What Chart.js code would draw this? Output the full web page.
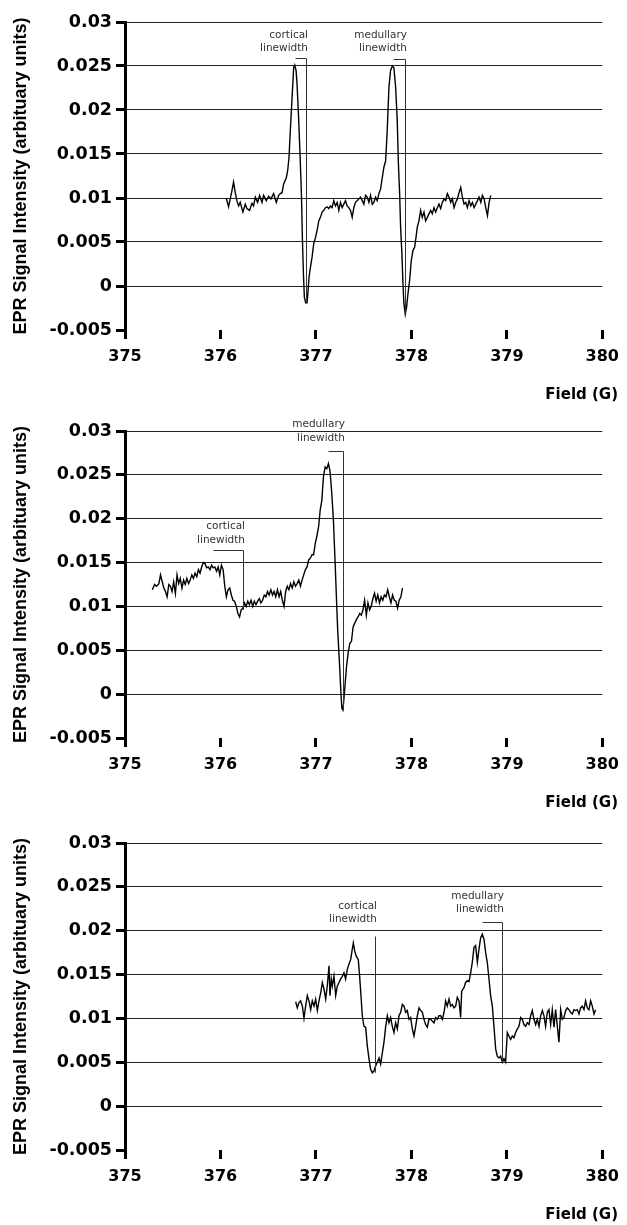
<!DOCTYPE html>
<html><head><meta charset="utf-8">
<script src="https://cdn.jsdelivr.net/npm/chart.js@4.4.1/dist/chart.umd.min.js"></script>
<style>
html,body{margin:0;padding:0;background:#fff;}
body{width:627px;height:1225px;position:relative;overflow:hidden;}
canvas{position:absolute;left:0;}
</style></head><body>
<canvas id="c1" width="627" height="410" style="top:0px"></canvas>
<canvas id="c2" width="627" height="410" style="top:410px"></canvas>
<canvas id="c3" width="627" height="405" style="top:820px"></canvas>
<script>
// ---- tick labels ----
const xTickValues = [375, 376, 377, 378, 379, 380];
const xTickLabels = ['375', '376', '377', '378', '379', '380'];
const yTickValues = [-0.005, 0, 0.005, 0.01, 0.015, 0.02, 0.025, 0.03];
const yTickLabels = ['-0.005', '0', '0.005', '0.01', '0.015', '0.02', '0.025', '0.03'];
const yTitle = 'EPR Signal Intensity (arbituary units)';
const xTitle = 'Field (G)';

// ---- panel 1 (top) ----
const field1 = [
376.060,376.085,376.120,376.137,376.155,376.172,376.190,376.207,376.235,376.260,
376.277,376.305,376.330,376.347,376.365,376.389,376.410,376.435,376.452,376.480,
376.505,376.529,376.557,376.585,376.610,376.627,376.645,376.662,376.690,376.704,
376.718,376.732,376.750,376.767,376.778,376.792,376.802,376.820,376.837,376.848,
376.858,376.869,376.879,376.893,376.907,376.918,376.928,376.942,376.960,376.977,
376.995,377.012,377.030,377.047,377.065,377.082,377.100,377.117,377.135,377.152,
377.170,377.187,377.205,377.222,377.240,377.257,377.275,377.292,377.310,377.327,
377.345,377.362,377.380,377.397,377.415,377.432,377.450,377.467,377.485,377.502,
377.520,377.537,377.555,377.572,377.590,377.607,377.625,377.642,377.660,377.677,
377.695,377.712,377.730,377.747,377.765,377.782,377.800,377.817,377.835,377.852,
377.863,377.877,377.887,377.901,377.912,377.922,377.936,377.950,377.964,377.981,
377.999,378.016,378.034,378.048,378.062,378.079,378.097,378.114,378.132,378.149,
378.167,378.184,378.202,378.219,378.237,378.254,378.272,378.289,378.307,378.324,
378.342,378.359,378.377,378.394,378.412,378.429,378.447,378.464,378.482,378.499,
378.517,378.534,378.552,378.569,378.587,378.604,378.622,378.639,378.657,378.674,
378.692,378.709,378.727,378.744,378.762,378.779,378.797,378.814,378.832];
const signal1 = [
0.0100,0.0090,0.0108,0.0118,0.0106,0.0097,0.0091,0.0095,0.0084,0.0093,
0.0088,0.0086,0.0094,0.0091,0.0101,0.0095,0.0103,0.0095,0.0103,0.0097,
0.0102,0.0099,0.0105,0.0095,0.0103,0.0105,0.0106,0.0116,0.0123,0.0131,
0.0146,0.0177,0.0214,0.0248,0.0251,0.0245,0.0230,0.0188,0.0139,0.0105,
0.0055,0.0014,-0.0013,-0.0019,-0.0019,-0.0005,0.0010,0.0021,0.0033,0.0048,
0.0055,0.0063,0.0074,0.0078,0.0084,0.0086,0.0089,0.0090,0.0088,0.0091,
0.0089,0.0097,0.0091,0.0095,0.0086,0.0095,0.0089,0.0093,0.0097,0.0091,
0.0089,0.0086,0.0078,0.0089,0.0095,0.0097,0.0099,0.0101,0.0097,0.0093,
0.0103,0.0101,0.0095,0.0103,0.0093,0.0095,0.0101,0.0097,0.0105,0.0110,
0.0123,0.0135,0.0142,0.0177,0.0226,0.0245,0.0250,0.0248,0.0226,0.0188,
0.0142,0.0105,0.0067,0.0036,0.0002,-0.0020,-0.0032,-0.0024,-0.0009,0.0006,
0.0029,0.0040,0.0044,0.0055,0.0067,0.0074,0.0086,0.0078,0.0084,0.0074,
0.0078,0.0082,0.0086,0.0082,0.0089,0.0084,0.0089,0.0093,0.0088,0.0095,
0.0099,0.0097,0.0105,0.0101,0.0095,0.0099,0.0089,0.0095,0.0099,0.0106,
0.0112,0.0101,0.0093,0.0095,0.0089,0.0097,0.0091,0.0095,0.0089,0.0093,
0.0097,0.0101,0.0095,0.0103,0.0099,0.0089,0.0080,0.0095,0.0103];

// ---- panel 2 (middle) ----
const field2 = [
375.286,375.310,375.331,375.355,375.372,375.390,375.407,375.424,375.441,375.459,
375.476,375.493,375.510,375.528,375.545,375.562,375.579,375.597,375.614,375.631,
375.648,375.666,375.683,375.700,375.717,375.734,375.752,375.769,375.786,375.803,
375.821,375.838,375.855,375.872,375.890,375.907,375.924,375.941,375.959,375.976,
375.993,376.010,376.028,376.045,376.062,376.079,376.097,376.114,376.131,376.148,
376.166,376.183,376.200,376.217,376.234,376.252,376.269,376.286,376.303,376.321,
376.338,376.355,376.372,376.390,376.407,376.424,376.441,376.459,376.476,376.493,
376.510,376.528,376.545,376.562,376.579,376.597,376.614,376.631,376.648,376.666,
376.683,376.700,376.717,376.734,376.752,376.769,376.786,376.803,376.821,376.838,
376.855,376.872,376.890,376.907,376.924,376.941,376.959,376.976,376.993,377.010,
377.028,377.045,377.062,377.079,377.097,377.114,377.131,377.148,377.166,377.183,
377.193,377.203,377.217,377.228,377.241,377.252,377.262,377.272,377.283,377.293,
377.307,377.321,377.338,377.355,377.372,377.390,377.407,377.424,377.441,377.459,
377.476,377.493,377.510,377.528,377.545,377.562,377.579,377.597,377.614,377.631,
377.648,377.666,377.683,377.700,377.717,377.734,377.752,377.769,377.786,377.803,
377.821,377.838,377.855,377.872,377.890,377.907];
const signal2 = [
0.0119,0.0125,0.0123,0.0126,0.0136,0.0128,0.0121,0.0117,0.0111,0.0125,
0.0123,0.0117,0.0128,0.0115,0.0136,0.0126,0.0132,0.0121,0.0130,0.0125,
0.0132,0.0126,0.0130,0.0136,0.0132,0.0138,0.0134,0.0142,0.0138,0.0145,
0.0150,0.0149,0.0144,0.0145,0.0142,0.0147,0.0144,0.0145,0.0140,0.0145,
0.0136,0.0147,0.0142,0.0123,0.0111,0.0119,0.0121,0.0113,0.0107,0.0106,
0.0100,0.0092,0.0088,0.0096,0.0098,0.0104,0.0100,0.0106,0.0102,0.0107,
0.0100,0.0106,0.0102,0.0106,0.0109,0.0104,0.0107,0.0113,0.0111,0.0117,
0.0113,0.0119,0.0113,0.0117,0.0111,0.0119,0.0111,0.0117,0.0107,0.0100,
0.0117,0.0123,0.0119,0.0126,0.0121,0.0128,0.0123,0.0126,0.0130,0.0123,
0.0130,0.0136,0.0142,0.0145,0.0153,0.0155,0.0159,0.0159,0.0172,0.0180,
0.0191,0.0210,0.0221,0.0248,0.0259,0.0257,0.0263,0.0254,0.0229,0.0199,
0.0172,0.0145,0.0104,0.0073,0.0047,0.0024,0.0001,-0.0016,-0.0018,-0.0006,
0.0013,0.0032,0.0047,0.0058,0.0060,0.0077,0.0081,0.0085,0.0088,0.0092,
0.0090,0.0096,0.0107,0.0090,0.0104,0.0096,0.0100,0.0109,0.0115,0.0106,
0.0113,0.0104,0.0111,0.0107,0.0113,0.0111,0.0119,0.0111,0.0104,0.0113,
0.0107,0.0106,0.0098,0.0107,0.0111,0.0121];

// ---- panel 3 (bottom) ----
const field3 = [
376.788,376.805,376.823,376.840,376.858,376.875,376.892,376.910,376.927,376.945,
376.962,376.980,376.997,377.015,377.032,377.050,377.067,377.085,377.102,377.119,
377.137,377.147,377.161,377.172,377.189,377.207,377.224,377.242,377.259,377.277,
377.294,377.311,377.329,377.346,377.364,377.381,377.392,377.406,377.423,377.444,
377.458,377.472,377.486,377.503,377.521,377.538,377.556,377.573,377.591,377.608,
377.626,377.643,377.661,377.678,377.696,377.713,377.730,377.748,377.765,377.783,
377.800,377.818,377.835,377.853,377.870,377.888,377.905,377.923,377.940,377.957,
377.975,377.992,378.010,378.027,378.045,378.062,378.080,378.097,378.115,378.132,
378.149,378.167,378.184,378.202,378.219,378.237,378.254,378.272,378.289,378.307,
378.324,378.342,378.359,378.376,378.394,378.411,378.429,378.446,378.464,378.481,
378.499,378.516,378.527,378.551,378.568,378.586,378.603,378.621,378.638,378.656,
378.673,378.691,378.708,378.726,378.743,378.761,378.778,378.795,378.813,378.830,
378.848,378.865,378.883,378.900,378.918,378.935,378.953,378.970,378.987,379.005,
379.022,379.040,379.057,379.075,379.092,379.110,379.127,379.145,379.162,379.179,
379.197,379.214,379.232,379.249,379.267,379.284,379.302,379.319,379.337,379.354,
379.372,379.389,379.406,379.424,379.441,379.459,379.476,379.494,379.511,379.529,
379.546,379.564,379.581,379.598,379.616,379.633,379.651,379.668,379.686,379.703,
379.721,379.738,379.756,379.773,379.790,379.808,379.825,379.843,379.860,379.878,
379.895,379.913,379.930];
const signal3 = [
0.0119,0.0112,0.0118,0.0120,0.0114,0.0100,0.0114,0.0126,0.0120,0.0110,
0.0120,0.0114,0.0122,0.0109,0.0120,0.0129,0.0141,0.0133,0.0122,0.0137,
0.0160,0.0126,0.0145,0.0137,0.0148,0.0126,0.0137,0.0141,0.0145,0.0148,
0.0152,0.0145,0.0156,0.0162,0.0167,0.0179,0.0186,0.0177,0.0171,0.0167,
0.0148,0.0126,0.0103,0.0091,0.0090,0.0069,0.0054,0.0042,0.0038,0.0040,
0.0046,0.0050,0.0055,0.0048,0.0061,0.0073,0.0090,0.0103,0.0095,0.0101,
0.0091,0.0084,0.0095,0.0088,0.0103,0.0107,0.0116,0.0114,0.0107,0.0109,
0.0099,0.0101,0.0088,0.0080,0.0091,0.0103,0.0112,0.0109,0.0107,0.0099,
0.0093,0.0090,0.0099,0.0099,0.0097,0.0095,0.0101,0.0099,0.0103,0.0103,
0.0099,0.0107,0.0120,0.0114,0.0122,0.0114,0.0116,0.0112,0.0114,0.0124,
0.0120,0.0101,0.0131,0.0135,0.0141,0.0143,0.0142,0.0152,0.0164,0.0181,
0.0183,0.0164,0.0179,0.0192,0.0196,0.0190,0.0175,0.0164,0.0145,0.0126,
0.0114,0.0091,0.0065,0.0057,0.0055,0.0057,0.0050,0.0054,0.0050,0.0084,
0.0080,0.0076,0.0080,0.0078,0.0084,0.0088,0.0091,0.0101,0.0099,0.0093,
0.0091,0.0095,0.0093,0.0103,0.0109,0.0099,0.0093,0.0099,0.0091,0.0103,
0.0109,0.0103,0.0091,0.0107,0.0110,0.0093,0.0110,0.0090,0.0110,0.0091,
0.0073,0.0110,0.0099,0.0101,0.0109,0.0112,0.0110,0.0107,0.0105,0.0110,
0.0109,0.0110,0.0105,0.0112,0.0114,0.0110,0.0120,0.0112,0.0110,0.0120,
0.0114,0.0105,0.0110];

// ---- linewidth callouts (field/intensity values) ----
const annoLabels1 = [['cortical','linewidth'], ['medullary','linewidth']];
const annoPeak1   = [376.777, 377.809];
const annoTrough1 = [376.899, 377.938];
const annoTop1    = [0.0259, 0.0258];
const annoBottom1 = [-0.0017, -0.0031];
const annoText1   = [0.0270, 0.0270];

const annoLabels2 = [['medullary','linewidth'], ['cortical','linewidth']];
const annoPeak2   = [377.131, 375.924];
const annoTrough2 = [377.279, 376.234];
const annoTop2    = [0.0277, 0.0164];
const annoBottom2 = [-0.0018, 0.0096];
const annoText2   = [0.0292, 0.0176];

const annoLabels3 = [['cortical','linewidth'], ['medullary','linewidth']];
const annoPeak3   = [377.619, 378.736];
const annoTrough3 = [377.619, 378.946];
const annoTop3    = [0.0194, 0.0210];
const annoBottom3 = [0.0038, 0.0050];
const annoText3   = [0.0213, 0.0224];

function calloutPlugin(labels, peak, trough, top, bottom, text) {
  return {
    id: 'callouts',
    afterDatasetsDraw(chart) {
      const ctx = chart.ctx, xs = chart.scales.x, ys = chart.scales.y;
      ctx.save();
      ctx.strokeStyle = '#333';
      ctx.lineWidth = 1;
      ctx.fillStyle = '#333';
      ctx.font = '10.5px "DejaVu Sans"';
      ctx.textAlign = 'right';
      ctx.textBaseline = 'middle';
      labels.forEach((lab, i) => {
        const px0 = Math.round(xs.getPixelForValue(peak[i])) + 0.5;
        const px1 = Math.round(xs.getPixelForValue(trough[i])) + 0.5;
        const pyT = Math.round(ys.getPixelForValue(top[i])) + 0.5;
        const pyB = ys.getPixelForValue(bottom[i]);
        const pyL = ys.getPixelForValue(text[i]);
        ctx.beginPath();
        ctx.moveTo(px0, pyT);
        ctx.lineTo(px1, pyT);
        ctx.lineTo(px1, pyB);
        ctx.stroke();
        ctx.fillText(lab[0], px1 + 1.5, pyL - 13.3);
        ctx.fillText(lab[1], px1 + 1.5, pyL);
      });
      ctx.fillStyle = '#000';
      ctx.font = 'bold 15px "DejaVu Sans"';
      ctx.fillText(xTitle, 618, chart.chartArea.bottom + 65.5);
      ctx.restore();
    }
  };
}

function makeChart(id, xs, ys, plugin, padTop, padBottom) {
  const pts = xs.map((x, i) => ({x: x, y: ys[i]}));
  const xFont = {family: 'DejaVu Sans', weight: 'bold', size: 16};
  const yFont = {family: 'DejaVu Sans', weight: 'bold', size: 17.5};
  return new Chart(document.getElementById(id), {
    type: 'line',
    data: {datasets: [{data: pts, borderColor: '#000', borderWidth: 1.4, pointRadius: 0, tension: 0, fill: false}]},
    options: {
      responsive: false, animation: false, devicePixelRatio: 1,
      layout: {padding: {left: 0, right: 24, top: padTop, bottom: padBottom}},
      plugins: {legend: {display: false}, tooltip: {enabled: false}},
      scales: {
        x: {
          type: 'linear', min: 375, max: 380,
          afterFit: s => { s.height = 40; },
          afterBuildTicks: s => { s.ticks = xTickValues.map(v => ({value: v})); },
          ticks: {callback: (v, i) => xTickLabels[i], font: xFont, color: '#000', padding: 8, maxRotation: 0, autoSkip: false},
          grid: {drawOnChartArea: false, drawTicks: true, tickLength: 9, tickWidth: 3, tickColor: '#000'},
          border: {display: false}
        },
        y: {
          type: 'linear', min: -0.005, max: 0.03,
          afterFit: s => { s.width = 125; },
          afterBuildTicks: s => { s.ticks = yTickValues.map(v => ({value: v})); },
          ticks: {callback: (v, i) => yTickLabels[i], font: yFont, color: '#000', padding: 4, autoSkip: false},
          grid: {
            color: c => (c.tick && c.tick.value <= -0.0049) ? 'rgba(0,0,0,0)' : '#222',
            lineWidth: 1, tickLength: 9, tickWidth: 3, tickColor: '#000'
          },
          border: {display: true, color: '#000', width: 3},
          title: {display: true, text: yTitle, color: '#000',
                  font: {family: 'Liberation Sans', weight: 'bold', size: 18},
                  padding: {top: 10, bottom: 0}}
        }
      }
    },
    plugins: [plugin]
  });
}

makeChart('c1', field1, signal1, calloutPlugin(annoLabels1, annoPeak1, annoTrough1, annoTop1, annoBottom1, annoText1), 22, 40);
makeChart('c2', field2, signal2, calloutPlugin(annoLabels2, annoPeak2, annoTrough2, annoTop2, annoBottom2, annoText2), 21, 42);
makeChart('c3', field3, signal3, calloutPlugin(annoLabels3, annoPeak3, annoTrough3, annoTop3, annoBottom3, annoText3), 23, 35);
</script>
</body></html>
